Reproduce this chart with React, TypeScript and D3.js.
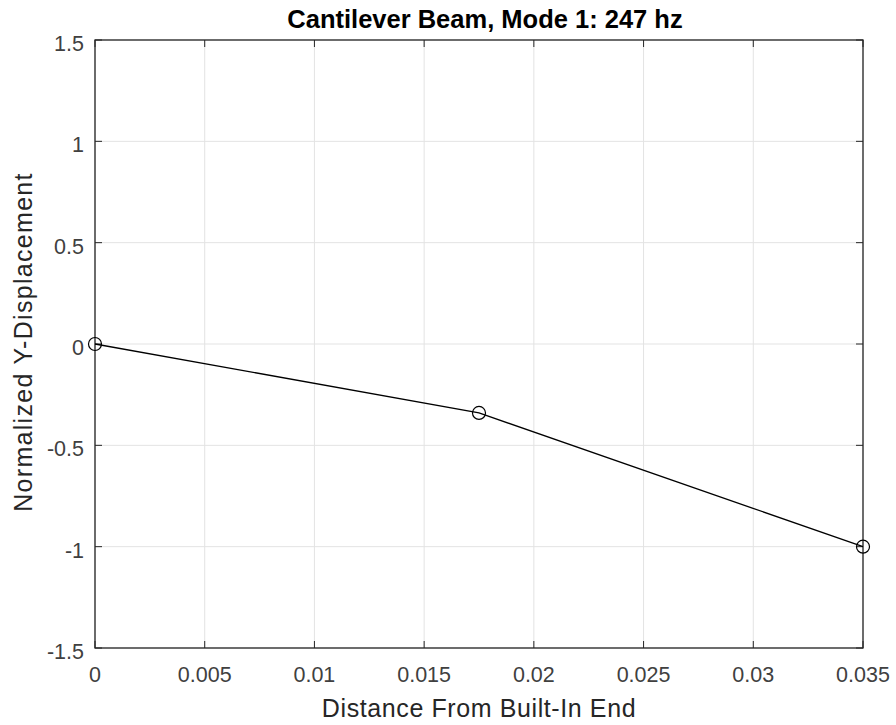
import React from "react";
import * as d3 from "d3";

const positions = [0, 0.0175, 0.035];
const displacements = [0, -0.34, -1];
const xTicks = [0, 0.005, 0.01, 0.015, 0.02, 0.025, 0.03, 0.035];
const yTicks = [-1.5, -1, -0.5, 0, 0.5, 1, 1.5];

const W = 896;
const H = 725;
const M = { left: 95, right: 33, top: 40, bottom: 77 };

export default function App() {
  const x = d3.scaleLinear().domain([0, 0.035]).range([M.left, W - M.right]);
  const y = d3.scaleLinear().domain([-1.5, 1.5]).range([H - M.bottom, M.top]);
  const pts = positions.map((p, i) => [p, displacements[i]] as [number, number]);
  const line = d3.line<[number, number]>().x((d) => x(d[0])).y((d) => y(d[1]));
  const x0 = M.left, x1 = W - M.right, y0 = M.top, y1 = H - M.bottom;
  const font = "Liberation Sans, Arial, sans-serif";
  const tl = 7;
  return (
    <svg width={W} height={H} style={{ position: "absolute", left: 0, top: 0, background: "#fff" }}>
      <rect width={W} height={H} fill="#fff" />
      {xTicks.map((t) => (
        <line key={"gx" + t} x1={x(t)} x2={x(t)} y1={y0} y2={y1} stroke="#e3e3e3" strokeWidth={1} />
      ))}
      {yTicks.map((t) => (
        <line key={"gy" + t} x1={x0} x2={x1} y1={y(t)} y2={y(t)} stroke="#e3e3e3" strokeWidth={1} />
      ))}
      {xTicks.map((t) => (
        <g key={"tx" + t}>
          <line x1={x(t)} x2={x(t)} y1={y1} y2={y1 - tl} stroke="#262626" />
          <line x1={x(t)} x2={x(t)} y1={y0} y2={y0 + tl} stroke="#262626" />
          <text x={x(t)} y={682} textAnchor="middle" fontFamily={font} fontSize={21.5} fill="#404040">
            {String(t)}
          </text>
        </g>
      ))}
      {yTicks.map((t) => (
        <g key={"ty" + t}>
          <line x1={x0} x2={x0 + tl} y1={y(t)} y2={y(t)} stroke="#262626" />
          <line x1={x1} x2={x1 - tl} y1={y(t)} y2={y(t)} stroke="#262626" />
          <text x={84} y={y(t) + 11} textAnchor="end" fontFamily={font} fontSize={21.5} fill="#404040">
            {String(t)}
          </text>
        </g>
      ))}
      <rect x={x0} y={y0} width={x1 - x0} height={y1 - y0} fill="none" stroke="#262626" strokeWidth={1.3} />
      <path d={line(pts) || ""} fill="none" stroke="#000" strokeWidth={1.3} />
      {pts.map((d, i) => (
        <circle key={i} cx={x(d[0])} cy={y(d[1])} r={6.5} fill="none" stroke="#000" strokeWidth={1.2} />
      ))}
      <text x={(x0 + x1) / 2 + 6} y={28} textAnchor="middle" fontFamily={font} fontSize={25.5} fontWeight="bold" fill="#000">
        Cantilever Beam, Mode 1: 247 hz
      </text>
      <text x={(x0 + x1) / 2} y={717} textAnchor="middle" fontFamily={font} fontSize={25} letterSpacing={0.6} fill="#262626">
        Distance From Built-In End
      </text>
      <text
        transform={`translate(32, ${(y0 + y1) / 2 - 2}) rotate(-90)`}
        textAnchor="middle"
        fontFamily={font}
        fontSize={25}
        letterSpacing={1.3}
        fill="#262626"
      >
        Normalized Y-Displacement
      </text>
    </svg>
  );
}
